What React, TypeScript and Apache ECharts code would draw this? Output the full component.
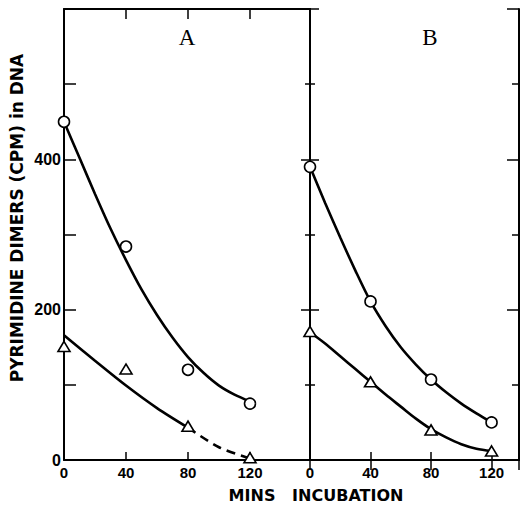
import React, { useEffect, useRef } from "react";
import * as echarts from "echarts";

// Tick labels
const xTickLabels = [0, 40, 80, 120];
const yTickLabels = [0, 200, 400];

// Measured points (minutes of incubation)
const pointX = [0, 40, 80, 120];
const aCircles = [450, 284, 120, 75];
const aTriangles = [151, 121, 45, 3];
const bCircles = [390, 211, 107, 50];
const bTriangles = [171, 104, 40, 12];

// Hand-drawn fitted curves
const curveX = [0, 10, 20, 30, 40, 50, 60, 70, 80, 90, 100, 110, 120];
const curveAUpperY = [450, 402, 354, 308, 266, 227, 193, 163, 137, 116, 99, 87, 78];
const curveALowerX = [0, 20, 40, 60, 80];
const curveALowerY = [166, 132, 99, 69, 43];
const curveALowerDashX = [80, 100, 120];
const curveALowerDashY = [43, 17, 2];
const curveBUpperY = [390, 342, 296, 252, 211, 178, 150, 127, 107, 90, 75, 62, 50];
const curveBLowerY = [170, 155, 138, 121, 104, 87, 71, 55, 41, 30, 21, 15, 12];

const zip = (xs: number[], ys: number[]) => xs.map((x, i) => [x, ys[i]]);

export default function App() {
  const ref = useRef<HTMLDivElement>(null);
  useEffect(() => {
    if (!ref.current) return;
    document.body.style.margin = "0";
    const chart = echarts.init(ref.current, undefined, { renderer: "svg" });
    const black = "#000";
    const axisLine = { show: true, lineStyle: { color: black, width: 2 } };
    const xLabel = {
      color: black,
      fontSize: 15,
      fontWeight: "bold" as const,
      fontFamily: "Liberation Sans",
      margin: 5,
      formatter: (v: number) => (xTickLabels.includes(v) ? String(v) : ""),
    };
    const bottomX = (grid: number, max: number) => ({
      type: "value",
      gridIndex: grid,
      position: "bottom",
      min: 0,
      max,
      interval: 40,
      axisLine,
      axisTick: { show: true, inside: true, length: 8, lineStyle: { color: black, width: 1.5 } },
      axisLabel: xLabel,
      splitLine: { show: false },
    });
    const topX = (grid: number, max: number) => ({
      type: "value",
      gridIndex: grid,
      position: "top",
      min: 0,
      max,
      interval: 40,
      axisLine,
      axisTick: { show: true, inside: true, length: 10, lineStyle: { color: black, width: 1.5 } },
      axisLabel: { show: false },
      splitLine: { show: false },
    });
    const curve = (data: number[][], xi: number, yi: number, dashed = false) => ({
      type: "line",
      xAxisIndex: xi,
      yAxisIndex: yi,
      data,
      smooth: 0.3,
      showSymbol: false,
      symbol: "none",
      silent: true,
      z: 2,
      lineStyle: { color: black, width: 2.6, type: dashed ? [9, 6] : "solid" },
    });
    const scatter = (data: number[][], xi: number, yi: number, tri: boolean) => ({
      type: "scatter",
      xAxisIndex: xi,
      yAxisIndex: yi,
      data,
      clip: false,
      z: 5,
      symbol: tri ? "triangle" : "circle",
      symbolSize: tri ? [12, 10] : 11,
      itemStyle: { color: "#fff", borderColor: black, borderWidth: 1.6, opacity: 1 },
    });
    const maxA = 246 / 1.55;
    const maxB = 213 / 1.542;
    const yAxisB = (position: string, inside: boolean, len: number, minorLen: number) => ({
      type: "value",
      gridIndex: 1,
      position,
      min: 0,
      max: 600,
      interval: 200,
      axisLine,
      axisTick: { show: true, inside, length: len, lineStyle: { color: black, width: 1.5 } },
      minorTick: { show: true, splitNumber: 2, length: minorLen, lineStyle: { color: black, width: 1.5 } },
      axisLabel: { show: false },
      splitLine: { show: false },
    });
    chart.setOption({
      animation: false,
      backgroundColor: "#fff",
      grid: [
        { left: 64, top: 9, width: 246, height: 451 },
        { left: 310, top: 9, width: 213, height: 451 },
      ],
      xAxis: [bottomX(0, maxA), topX(0, maxA), bottomX(1, maxB), topX(1, maxB)],
      yAxis: [
        {
          type: "value",
          gridIndex: 0,
          position: "left",
          min: 0,
          max: 600,
          interval: 100,
          axisLine,
          axisTick: { show: true, inside: true, length: 12, lineStyle: { color: black, width: 1.5 } },
          axisLabel: {
            color: black,
            fontSize: 16,
            fontWeight: "bold",
            fontFamily: "Liberation Sans",
            margin: 3,
            formatter: (v: number) => (yTickLabels.includes(v) ? String(v) : ""),
          },
          splitLine: { show: false },
        },
        yAxisB("left", false, 9, 5),
        yAxisB("left", true, 9, 5),
        yAxisB("right", true, 12, 7),
      ],
      series: [
        curve(zip(curveX, curveAUpperY), 0, 0),
        curve(zip(curveALowerX, curveALowerY), 0, 0),
        curve(zip(curveALowerDashX, curveALowerDashY), 0, 0, true),
        curve(zip(curveX, curveBUpperY), 2, 1),
        curve(zip(curveX, curveBLowerY), 2, 1),
        scatter(zip(pointX, aCircles), 0, 0, false),
        scatter(zip(pointX, aTriangles), 0, 0, true),
        scatter(zip(pointX, bCircles), 2, 1, false),
        scatter(zip(pointX, bTriangles), 2, 1, true),
      ],
      graphic: [
        {
          type: "text",
          x: 187,
          y: 37,
          style: {
            text: "A",
            fill: black,
            font: "23px 'Liberation Serif'",
            align: "center",
            verticalAlign: "middle",
          },
        },
        {
          type: "text",
          x: 430,
          y: 37,
          style: {
            text: "B",
            fill: black,
            font: "23px 'Liberation Serif'",
            align: "center",
            verticalAlign: "middle",
          },
        },
        {
          type: "text",
          x: 17,
          y: 218,
          rotation: Math.PI / 2,
          style: {
            text: "PYRIMIDINE DIMERS (CPM) in DNA",
            fill: black,
            font: "bold 17px 'DejaVu Sans'",
            align: "center",
            verticalAlign: "middle",
          },
        },
        {
          type: "text",
          x: 316,
          y: 495,
          style: {
            text: "MINS   INCUBATION",
            fill: black,
            font: "bold 16px 'DejaVu Sans'",
            align: "center",
            verticalAlign: "middle",
          },
        },
      ],
    });
    return () => chart.dispose();
  }, []);
  return (
    <div
      ref={ref}
      style={{ position: "absolute", left: 0, top: 0, width: 522, height: 506 }}
    />
  );
}
